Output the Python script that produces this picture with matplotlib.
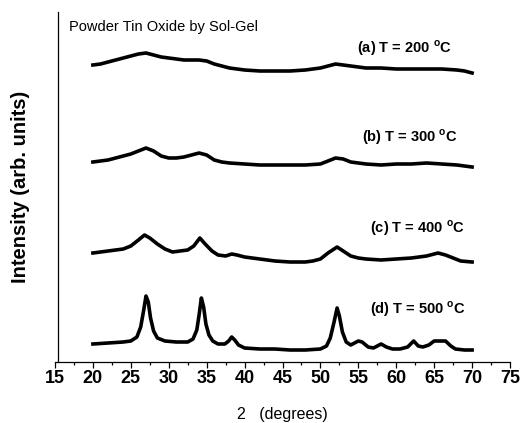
import matplotlib
matplotlib.use("Agg")
import matplotlib.pyplot as plt
from matplotlib.ticker import MultipleLocator

plt.rcParams['font.family'] = ['Liberation Sans', 'DejaVu Sans']
plt.rcParams['mathtext.fontset'] = 'custom'
plt.rcParams['mathtext.rm'] = 'Liberation Sans'
plt.rcParams['mathtext.bf'] = 'Liberation Sans:bold'

# 2-theta positions (degrees) and intensities (arb. units, offset stacked)
x_a = [20, 21, 22, 23, 24, 25, 26, 27, 28, 29, 30, 31, 32, 33, 34, 35, 36, 37, 38, 39, 40,
       42, 44, 46, 48, 50, 51, 52, 53, 54, 55, 56, 58, 60, 62, 64, 66, 68, 69, 70]
y_a = [297, 298, 300, 302, 304, 306, 308, 309, 307, 305, 304, 303, 302, 302, 302, 301, 298, 296, 294, 293, 292,
       291, 291, 291, 292, 294, 296, 298, 297, 296, 295, 294, 294, 293, 293, 293, 293, 292, 291, 289]

x_b = [20, 21, 22, 23, 24, 25, 26, 27, 28, 29, 30, 31, 32, 33, 34, 35, 36, 37, 38, 40,
       42, 44, 46, 48, 50, 51, 52, 53, 54, 55, 56, 58, 60, 62, 64, 66, 68, 70]
y_b = [200, 201, 202, 204, 206, 208, 211, 214, 211, 206, 204, 204, 205, 207, 209, 207, 202, 200, 199, 198,
       197, 197, 197, 197, 198, 201, 204, 203, 200, 199, 198, 197, 198, 198, 199, 198, 197, 195]

x_c = [20, 21, 22, 23, 24, 25, 26, 26.8, 27.5, 28.5, 29.5, 30.5, 31.5, 32.5, 33.3, 34.1, 34.8, 35.7,
       36.5, 37.5, 38.3, 39, 40, 42, 44, 46, 48, 49, 50, 51, 52.2, 53, 54, 55, 56, 58, 60, 62, 64,
       65.5, 66.5, 67.5, 68.5, 70]
y_c = [109, 110, 111, 112, 113, 116, 122, 127, 124, 118, 113, 110, 111, 112, 116, 124, 118, 111,
       107, 106, 108, 107, 105, 103, 101, 100, 100, 101, 103, 109, 115, 111, 106, 104, 103, 102, 103, 104, 106,
       109, 107, 104, 101, 100]

x_d = [20, 22, 24, 25, 25.8, 26.3, 26.7, 27.0, 27.3, 27.6, 28.0, 28.5, 29.5, 31, 32.5, 33.2, 33.7, 34.0,
       34.3, 34.6, 34.9, 35.3, 35.8, 36.5, 37.4, 37.9, 38.3, 38.7, 39.2, 40, 42, 44, 46, 48, 50, 50.8,
       51.3, 51.8, 52.2, 52.5, 52.9, 53.4, 54, 55.0, 55.5, 56.3, 57, 58, 58.7, 59.5, 60.5, 61.5, 62.3,
       62.9, 63.5, 64.3, 65, 65.8, 66.5, 67.2, 67.8, 69, 70]
y_d = [18, 19, 20, 21, 25, 35, 52, 66, 60, 44, 31, 24, 21, 20, 20, 23, 32, 47,
       64, 55, 38, 27, 21, 18, 18, 21, 25, 22, 17, 14, 13, 13, 12, 12, 13, 16,
       24, 40, 54, 46, 30, 20, 17, 21, 20, 15, 14, 18, 15, 13, 13, 15, 21,
       16, 15, 17, 21, 21, 21, 16, 13, 12, 12]

labels = [r"(a) T = 200 $^{\mathbf{o}}$C", r"(b) T = 300 $^{\mathbf{o}}$C",
          r"(c) T = 400 $^{\mathbf{o}}$C", r"(d) T = 500 $^{\mathbf{o}}$C"]
label_x = [54.8, 55.5, 56.5, 56.5]
label_y = [314, 225, 134, 53]

fig = plt.figure(figsize=(5.22, 4.23), dpi=100)
ax = fig.add_axes([55 / 522, 61 / 423, 455 / 522, 350 / 423])

for xs, ys in [(x_a, y_a), (x_b, y_b), (x_c, y_c), (x_d, y_d)]:
    ax.plot(xs, ys, color='black', lw=2.6, solid_joinstyle='round')

for lab, lx, ly in zip(labels, label_x, label_y):
    ax.text(lx, ly, lab, fontsize=10.5, fontweight='bold', va='center', ha='left')

ax.set_xlim(15, 75)
ax.set_ylim(0, 350)
ax.spines['top'].set_visible(False)
ax.spines['right'].set_visible(False)
ax.spines['left'].set_position(('data', 15.4))
ax.spines['left'].set_linewidth(0.9)
ax.spines['bottom'].set_linewidth(0.9)
ax.set_yticks([])
ax.xaxis.set_major_locator(MultipleLocator(5))
ax.xaxis.set_minor_locator(MultipleLocator(2.5))
ax.tick_params(axis='x', which='major', direction='out', length=4, width=0.9, pad=2, labelsize=13)
ax.tick_params(axis='x', which='minor', direction='out', length=2.5, width=0.9)
for t in ax.get_xticklabels():
    t.set_fontweight('bold')

ax.set_ylabel("Intensity (arb. units)", fontsize=14.5, fontweight='bold', labelpad=20)
ax.set_xlabel("2   (degrees)", fontsize=11.5, labelpad=14)

fig.text(69 / 522, 1 - 31 / 423, "Powder Tin Oxide by Sol-Gel", fontsize=10.5, va='baseline')

fig.savefig("out.png", dpi=100)
